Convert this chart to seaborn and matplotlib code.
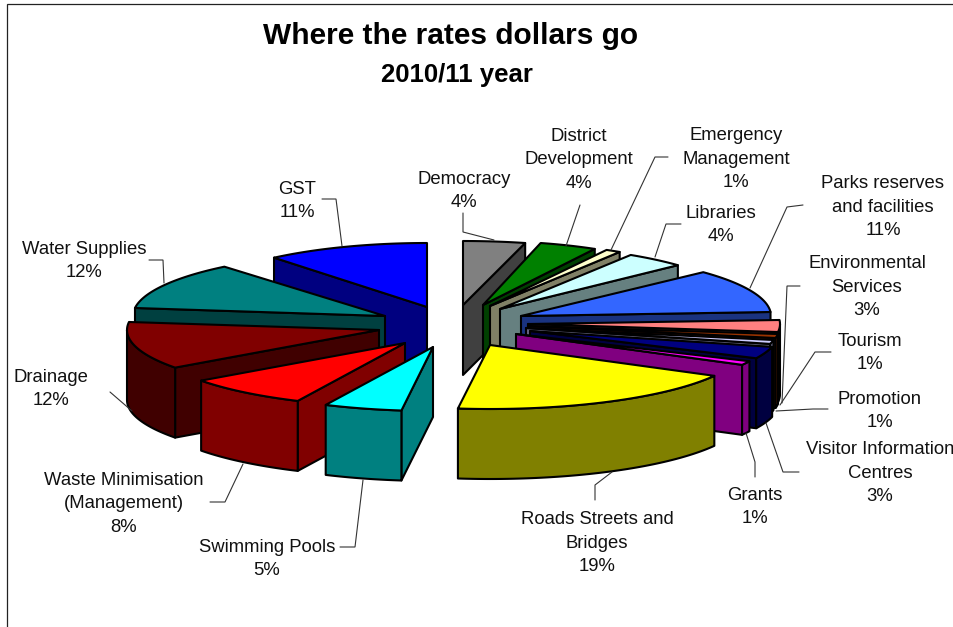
import numpy as np
import matplotlib
matplotlib.use("Agg")
import matplotlib.pyplot as plt
import seaborn as sns

# Budget shares, clockwise from twelve o'clock
categories = [
    "Democracy", "District\nDevelopment", "Emergency\nManagement", "Libraries",
    "Parks reserves\nand facilities", "Environmental\nServices", "Tourism",
    "Promotion", "Visitor Information\nCentres", "Grants",
    "Roads Streets and\nBridges", "Swimming Pools",
    "Waste Minimisation\n(Management)", "Drainage", "Water Supplies", "GST",
]
shares = [4, 4, 1, 4, 11, 3, 1, 1, 3, 1, 19, 5, 8, 12, 12, 11]
top_colors = [
    "#808080", "#008000", "#FFFFCC", "#CCFFFF", "#3366FF", "#FF8080", "#993300",
    "#CCCCFF", "#000080", "#FF00FF", "#FFFF00", "#00FFFF", "#FF0000", "#800000",
    "#008080", "#0000FF",
]

# Where each exploded slice's tip sits on the canvas, and its horizontal radius
tips_x = [463, 483, 490, 500, 521, 528, 528, 526, 530, 516, 490, 433, 405, 379, 385, 427]
tips_y = [305, 305, 306, 309, 316, 324, 326, 328, 331, 334, 345, 347, 343, 330, 316, 307]
radii_x = [250, 232, 242, 244, 250, 252, 252, 252, 250, 258, 256, 252, 252, 252, 252, 240]

# Label anchor (centre of the block) and its leader polyline
label_xy = [
    (464, 191), (579, 160), (736, 159), (721, 225), (883, 207), (867, 287),
    (870, 353), (880, 411), (880, 473), (755, 507), (597, 543), (267, 559),
    (124, 504), (51, 389), (84, 261), (297, 201),
]
leaders = [
    [(463, 213), (463, 232), (494, 240)],
    [(580, 205), (566, 246)],
    [(668, 157), (655, 157), (611, 250)],
    [(681, 224), (666, 224), (655, 257)],
    [(803, 205), (787, 207), (750, 288)],
    [(800, 286), (787, 286), (782, 403)],
    [(831, 352), (815, 352), (780, 405)],
    [(828, 409), (813, 409), (776, 411)],
    [(799, 472), (783, 472), (766, 423)],
    [(755, 477), (755, 462), (746, 433)],
    [(595, 500), (595, 485), (612, 472)],
    [(340, 547), (355, 547), (363, 480)],
    [(210, 502), (225, 502), (243, 464)],
    [(110, 392), (132, 411)],
    [(149, 260), (163, 260), (164, 283)],
    [(322, 199), (336, 199), (342, 246)],
]

RY, DEPTH = 64, 70
EDGE = 1.5

sns.set_theme(style="white")
plt.rcParams["font.family"] = ["Liberation Sans", "DejaVu Sans"]
tops = sns.color_palette(top_colors)
walls = [tuple(c * 0.5 for c in col) for col in tops]

fig = plt.figure(figsize=(9.54, 6.27), dpi=100, facecolor="white")
ax = fig.add_axes([0, 0, 1, 1])
ax.set_xlim(0, 954)
ax.set_ylim(627, 0)
ax.axis("off")


def rim(cx, cy, rx, a0, a1, drop=0):
    """Points along the elliptical rim between two clockwise angles in degrees."""
    t = np.radians(np.linspace(a0, a1, max(int(abs(a1 - a0) * 3), 2)))
    return cx + rx * np.sin(t), cy - RY * np.cos(t) + drop


def face(xs, ys, color):
    ax.fill(xs, ys, facecolor=color, edgecolor="black", linewidth=EDGE, joinstyle="round")


def draw_slice(cx, cy, rx, a0, a1, top, wall):
    # Radial wall turned towards the viewer
    for ang, visible in ((a0, 180 <= a0 < 360), (a1, 0 < a1 <= 180)):
        if visible:
            ex, ey = rim(cx, cy, rx, ang, ang + 1e-6)
            ex, ey = ex[0], ey[0]
            face([cx, ex, ex, cx], [cy, ey, ey + DEPTH, cy + DEPTH], wall)
    # Outer wall on the front half of the rim
    f0, f1 = max(a0, 90), min(a1, 270)
    if f1 > f0:
        x, y = rim(cx, cy, rx, f0, f1)
        xb, yb = rim(cx, cy, rx, f0, f1, DEPTH)
        face(np.r_[x, xb[::-1]], np.r_[y, yb[::-1]], wall)
    # Top surface
    x, y = rim(cx, cy, rx, a0, a1)
    face(np.r_[cx, x], np.r_[cy, y], top)


edges = np.cumsum([0] + shares) * 3.6
order = [i for i in range(len(shares)) if edges[i] < 187]
order += [i for i in range(len(shares) - 1, -1, -1) if edges[i] >= 187]
for i in order:
    draw_slice(tips_x[i], tips_y[i], radii_x[i], edges[i], edges[i + 1], tops[i], walls[i])

for path in leaders:
    xs, ys = zip(*path)
    ax.plot(xs, ys, color="#333333", linewidth=0.8, solid_joinstyle="miter")

for name, share, (x, y) in zip(categories, shares, label_xy):
    ax.text(x, y, f"{name}\n{share}%", ha="center", va="center", fontsize=13.3,
            color="#111111", linespacing=1.52, multialignment="center")

ax.text(451, 36, "Where the rates dollars go", ha="center", va="center",
        fontsize=21.5, fontweight="bold", color="black")
ax.text(457, 75, "2010/11 year", ha="center", va="center",
        fontsize=18.5, fontweight="bold", color="black")

# Chart frame, open towards the right and bottom
ax.plot([954, 7.5, 7.5], [3.5, 3.5, 627], color="#222222", linewidth=0.9,
        solid_joinstyle="miter")

fig.savefig("out.png", dpi=100, facecolor="white")
